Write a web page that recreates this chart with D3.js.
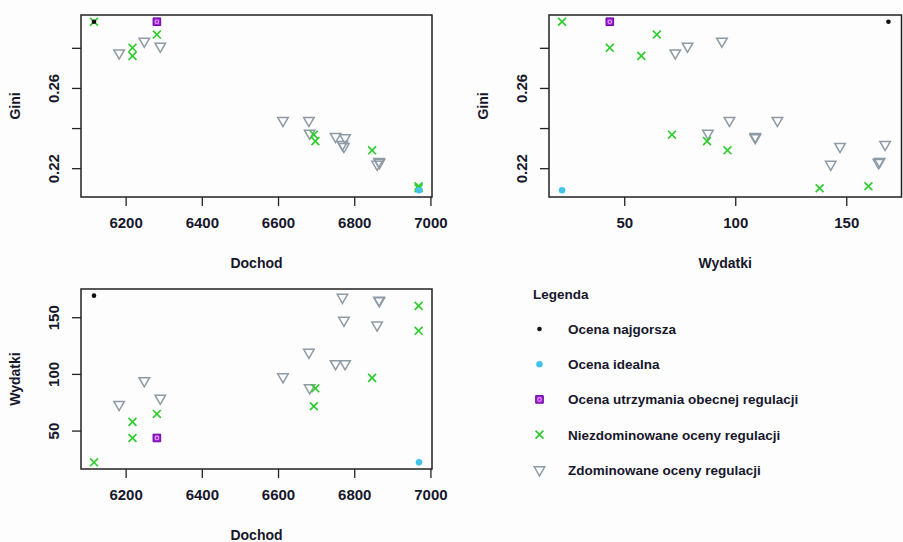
<!DOCTYPE html>
<html>
<head>
<meta charset="utf-8">
<script src="https://cdn.jsdelivr.net/npm/d3@7/dist/d3.min.js"></script>
<style>
  html, body { margin: 0; padding: 0; background: #fdfdfd; }
  svg { display: block; font-family: "Liberation Sans", Arial, sans-serif; }
</style>
</head>
<body>
<svg id="chart" width="903" height="542"></svg>
<script>
// ---------------- DATA ----------------
const categories = [
  "Ocena najgorsza",
  "Ocena idealna",
  "Ocena utrzymania obecnej regulacji",
  "Niezdominowane oceny regulacji",
  "Zdominowane oceny regulacji"
];

// Ocena najgorsza
const worstDochod = [6117];
const worstWydatki = [169];
const worstGini = [0.293];

// Ocena idealna
const idealDochod = [6970];
const idealWydatki = [22];
const idealGini = [0.209];

// Ocena utrzymania obecnej regulacji
const currentDochod = [6282];
const currentWydatki = [43.5];
const currentGini = [0.293];

// Niezdominowane oceny regulacji
const ndDochod  = [6117, 6218, 6218, 6282, 6694, 6698, 6847, 6969, 6969];
const ndWydatki = [22, 43.5, 57.7, 64.7, 71.5, 87.3, 96.5, 138, 160];
const ndGini    = [0.293, 0.280, 0.276, 0.2866, 0.2367, 0.2335, 0.2289, 0.210, 0.211];

// Zdominowane oceny regulacji
const dDochod  = [6183, 6249, 6291, 6613, 6681, 6683, 6751, 6776, 6769, 6773, 6860, 6865, 6866];
const dWydatki = [73, 94, 78.5, 97.4, 119, 87.7, 109, 109, 167.5, 147.2, 143, 165, 164.5];
const dGini    = [0.2774, 0.2833, 0.2808, 0.2438, 0.2438, 0.2374, 0.2358, 0.2352, 0.2318, 0.2308, 0.2219, 0.2233, 0.2228];

// Tick values / labels
const dochodTicks = [6200, 6400, 6600, 6800, 7000];
const dochodTickLabels = ["6200", "6400", "6600", "6800", "7000"];
const giniTicks = [0.22, 0.24, 0.26, 0.28];
const giniTickLabels = ["0.22", "", "0.26", ""];
const wydatkiTicks = [50, 100, 150];
const wydatkiTickLabels = ["50", "100", "150"];

// ---------------- BUILD ----------------
function zip(cat, D, W, G) {
  return D.map((d, i) => ({cat, dochod: d, wydatki: W[i], gini: G[i]}));
}
// draw order: dominated, nondominated, current, ideal, worst
const points = [].concat(
  zip(4, dDochod, dWydatki, dGini),
  zip(3, ndDochod, ndWydatki, ndGini),
  zip(2, currentDochod, currentWydatki, currentGini),
  zip(1, idealDochod, idealWydatki, idealGini),
  zip(0, worstDochod, worstWydatki, worstGini)
);

function padded(key) {
  const e = d3.extent(points, p => p[key]);
  const r = (e[1] - e[0]) * 0.04;
  return [e[0] - r, e[1] + r];
}
const domains = { dochod: padded("dochod"), wydatki: padded("wydatki"), gini: padded("gini") };
const ticks = {
  dochod: [dochodTicks, dochodTickLabels],
  wydatki: [wydatkiTicks, wydatkiTickLabels],
  gini: [giniTicks, giniTickLabels]
};
const titles = { dochod: "Dochod", wydatki: "Wydatki", gini: "Gini" };

const TEXT = "#17172b";
const COLORS = ["#111111", "#44c4ec", "#9a1fd8", "#2ecc2e", "#8e9ba6"];

const svg = d3.select("#chart");

function drawMarker(g, cat, x, y) {
  if (cat === 0) {
    g.append("circle").attr("cx", x).attr("cy", y).attr("r", 2.3).attr("fill", COLORS[0]);
  } else if (cat === 1) {
    g.append("circle").attr("cx", x).attr("cy", y).attr("r", 3.3).attr("fill", COLORS[1]);
  } else if (cat === 2) {
    g.append("path").attr("transform", `translate(${x},${y})`)
      .attr("d", d3.symbol().type(d3.symbolSquare).size(58)())
      .attr("fill", COLORS[2]).attr("stroke", "#6a0a9a").attr("stroke-width", 1);
    g.append("circle").attr("cx", x).attr("cy", y).attr("r", 1.8)
      .attr("fill", "none").attr("stroke", "#f0a0ff").attr("stroke-width", 1.1);
  } else if (cat === 3) {
    g.append("path").attr("transform", `translate(${x},${y})`)
      .attr("d", d3.symbol().type(d3.symbolTimes).size(42)())
      .attr("fill", "none").attr("stroke", COLORS[3]).attr("stroke-width", 1.7);
  } else {
    g.append("path").attr("transform", `translate(${x},${y}) rotate(180)`)
      .attr("d", d3.symbol().type(d3.symbolTriangle).size(48)())
      .attr("fill", "none").attr("stroke", COLORS[4]).attr("stroke-width", 1.5);
  }
}

function panel(xKey, yKey, box) {
  const [x0, x1, y0, y1] = box; // left, right, top, bottom
  const x = d3.scaleLinear().domain(domains[xKey]).range([x0, x1]);
  const y = d3.scaleLinear().domain(domains[yKey]).range([y1, y0]);
  const g = svg.append("g");

  // x axis
  const [xt, xl] = ticks[xKey];
  const xa = g.append("g").attr("transform", `translate(0,${y1})`)
    .call(d3.axisBottom(x).tickValues(xt).tickSize(9).tickPadding(11)
      .tickFormat((d, i) => xl[i]));
  xa.select(".domain").remove();
  xa.selectAll("line").attr("stroke", "#222").attr("stroke-width", 1.3);
  xa.selectAll("text").attr("fill", TEXT).attr("font-size", 15).attr("font-weight", "bold")
    .attr("font-family", "Liberation Sans, Arial, sans-serif");

  // y axis
  const [yt, yl] = ticks[yKey];
  const ya = g.append("g").attr("transform", `translate(${x0},0)`)
    .call(d3.axisLeft(y).tickValues(yt).tickSize(9).tickFormat((d, i) => yl[i]));
  ya.select(".domain").remove();
  ya.selectAll("line").attr("stroke", "#222").attr("stroke-width", 1.3);
  ya.selectAll("text").attr("fill", TEXT).attr("font-size", 15).attr("font-weight", "bold")
    .attr("font-family", "Liberation Sans, Arial, sans-serif")
    .attr("transform", "rotate(-90)").attr("x", 0).attr("y", -22).attr("dy", 0)
    .attr("text-anchor", "middle");

  // points
  const pg = g.append("g");
  points.forEach(p => drawMarker(pg, p.cat, x(p[xKey]), y(p[yKey])));

  // box
  g.append("rect").attr("x", x0).attr("y", y0).attr("width", x1 - x0).attr("height", y1 - y0)
    .attr("fill", "none").attr("stroke", "#222").attr("stroke-width", 1.5);

  // titles
  g.append("text").attr("x", (x0 + x1) / 2).attr("y", y1 + 71)
    .attr("text-anchor", "middle").attr("fill", TEXT).attr("font-size", 14).attr("font-weight", "bold")
    .text(titles[xKey]);
  g.append("text").attr("transform", `translate(${x0 - 61},${(y0 + y1) / 2}) rotate(-90)`)
    .attr("text-anchor", "middle").attr("fill", TEXT).attr("font-size", 14).attr("font-weight", "bold")
    .text(titles[yKey]);
}

panel("dochod", "gini", [81, 432, 15, 197]);
panel("wydatki", "gini", [549, 901.5, 15, 197]);
panel("dochod", "wydatki", [81, 432, 289, 469]);

// legend
const lg = svg.append("g");
lg.append("text").attr("x", 533).attr("y", 299).attr("fill", TEXT)
  .attr("font-size", 13.5).attr("font-weight", "bold").text("Legenda");
categories.forEach((c, i) => {
  const cy = 329 + i * 35.2;
  drawMarker(lg, i, 539.5, cy);
  lg.append("text").attr("x", 568).attr("y", cy + 5).attr("fill", TEXT)
    .attr("font-size", 13.5).attr("font-weight", "bold").text(c);
});
</script>
</body>
</html>
